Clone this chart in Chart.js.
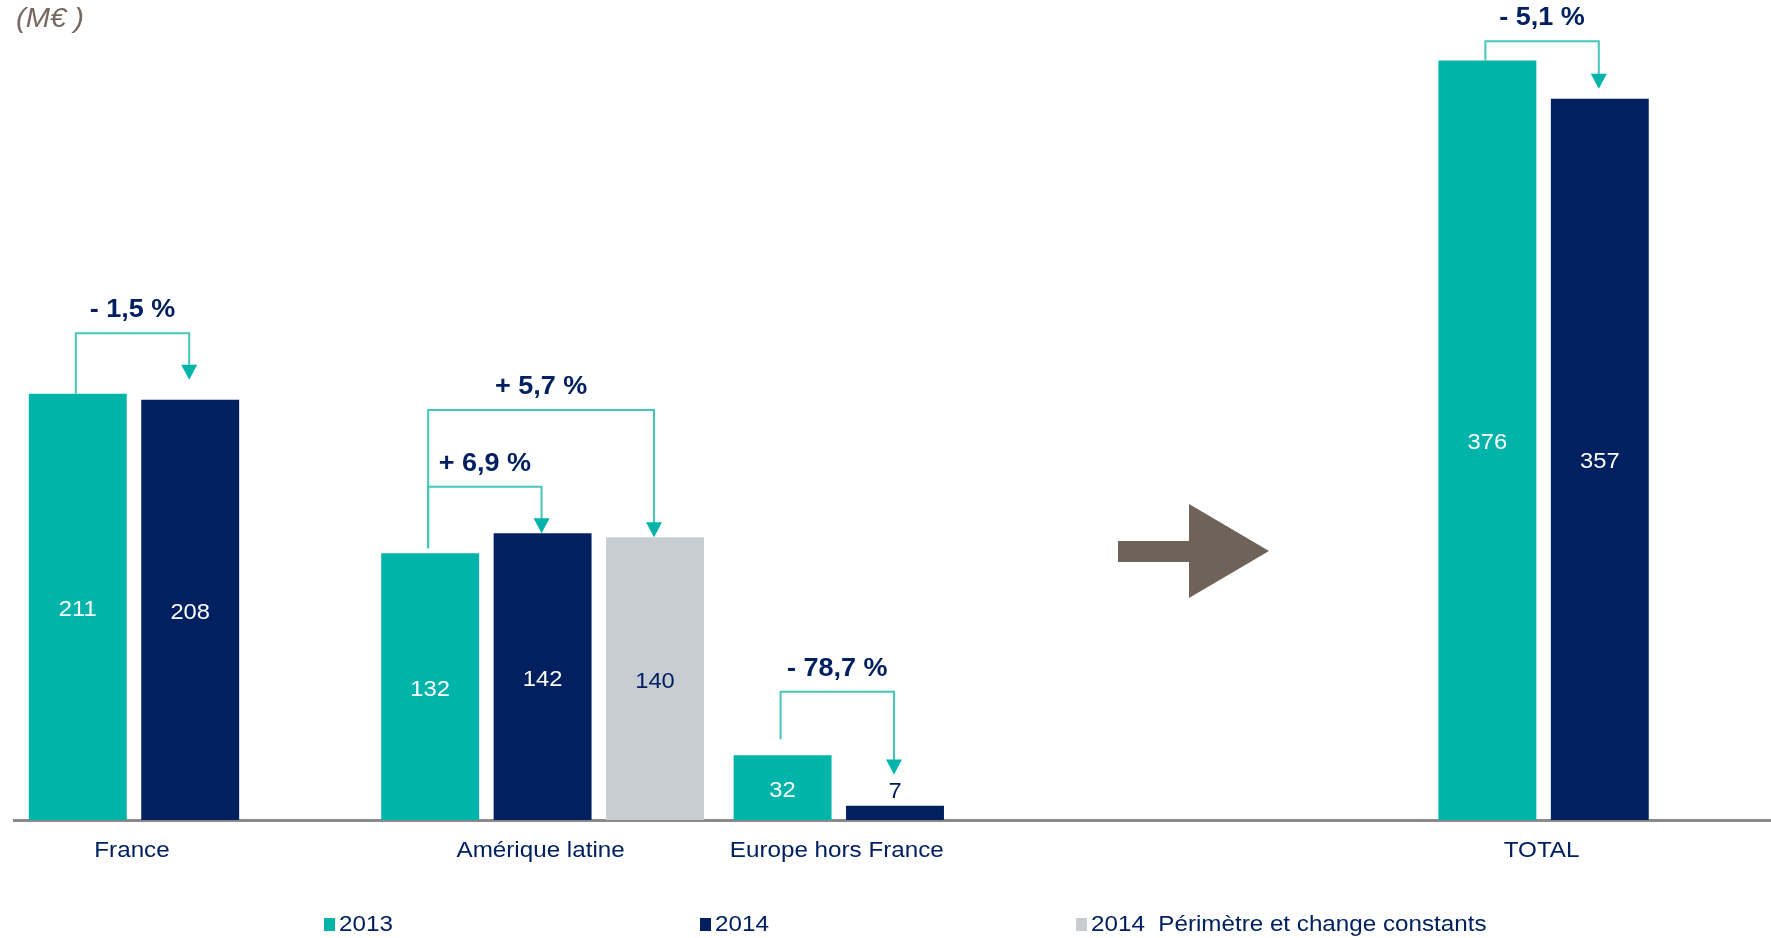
<!DOCTYPE html>
<html>
<head>
<meta charset="utf-8">
<script src="https://cdn.jsdelivr.net/npm/chart.js@4"></script>
<style>
  html, body { margin: 0; padding: 0; background: #fff; overflow: hidden; }
</style>
</head>
<body>
<canvas id="Chart" width="1780" height="938"></canvas>
<script>
// Regions on the x axis (the blank one leaves room for the arrow)
var categories = ['France', 'Amérique latine', 'Europe hors France', '', 'TOTAL'];
var values2013 = [211, 132, 32, null, 376];
var values2014 = [208, 142, 7, null, 357];
var values2014Constant = [null, 140, null, null, null];
var seriesNames = ['2013', '2014', '2014  Périmètre et change constants'];

// Changes between bars: [dataset, index] pairs, bracket height and leg ends in M€
var changeLabels = ['- 1,5 %', '+ 6,9 %', '+ 5,7 %', '- 78,7 %', '- 5,1 %'];
var changeFrom = [[0, 0], [0, 1], [0, 1], [0, 2], [0, 4]];
var changeTo = [[1, 0], [1, 1], [2, 1], [1, 2], [1, 4]];
var changeLevel = [241, 165, 203, 63.5, 385.5];
var changeStart = [211, 134.5, 134.5, 40, 376];
var changeTip = [218, 142, 140, 22.5, 362];

var TEAL = '#00b4a9';
var NAVY = '#002060';
var GREY = '#c8cdd4';
var LINE = '#45c6bb';
var BROWN = '#6e6259';
var FONT = "'Liberation Sans', Arial, sans-serif";

// text runs a little wide, so stretch it out horizontally
function drawText(ctx, text, x, y, font, color, align, sx) {
    ctx.save();
    ctx.font = font;
    ctx.fillStyle = color;
    ctx.textBaseline = 'middle';
    ctx.textAlign = align || 'center';
    ctx.translate(x, y);
    ctx.scale(sx || 1.08, 1);
    ctx.fillText(text, 0, 0);
    ctx.restore();
}

var annotations = {
    id: 'annotations',
    afterDatasetsDraw: function (chart) {
        var ctx = chart.ctx;
        var yScale = chart.scales.y;
        var area = chart.chartArea;

        // value labels
        chart.data.datasets.forEach(function (ds, di) {
            var meta = chart.getDatasetMeta(di);
            meta.data.forEach(function (bar, i) {
                var v = ds.data[i];
                if (v === null) return;
                if (v < 20) {
                    drawText(ctx, String(v), bar.x, bar.y - 14, '22px ' + FONT, NAVY);
                } else {
                    drawText(ctx, String(v), bar.x, (bar.y + bar.base) / 2 + 3, '22px ' + FONT,
                        di === 2 ? NAVY : '#ffffff');
                }
            });
        });

        // category labels, centred under the bars that exist
        categories.forEach(function (name, i) {
            if (!name) return;
            var xs = [];
            chart.data.datasets.forEach(function (ds, di) {
                if (ds.data[i] !== null) xs.push(chart.getDatasetMeta(di).data[i].x);
            });
            var cx = (Math.min.apply(null, xs) + Math.max.apply(null, xs)) / 2;
            drawText(ctx, name, cx - 2, area.bottom + 31, '22px ' + FONT, NAVY, 'center', 1.1);
        });

        // change brackets
        changeLabels.forEach(function (label, k) {
            var a = chart.getDatasetMeta(changeFrom[k][0]).data[changeFrom[k][1]];
            var b = chart.getDatasetMeta(changeTo[k][0]).data[changeTo[k][1]];
            var x1 = a.x - 2, x2 = b.x - 1;
            var yl = yScale.getPixelForValue(changeLevel[k]);
            var ys = yScale.getPixelForValue(changeStart[k]);
            var yt = yScale.getPixelForValue(changeTip[k]);
            ctx.save();
            ctx.strokeStyle = LINE;
            ctx.lineWidth = 2;
            ctx.beginPath();
            ctx.moveTo(x1, ys);
            ctx.lineTo(x1, yl);
            ctx.lineTo(x2, yl);
            ctx.lineTo(x2, yt - 14);
            ctx.stroke();
            ctx.fillStyle = TEAL;
            ctx.beginPath();
            ctx.moveTo(x2 - 8, yt - 15);
            ctx.lineTo(x2 + 8, yt - 15);
            ctx.lineTo(x2, yt);
            ctx.closePath();
            ctx.fill();
            ctx.restore();
            drawText(ctx, label, (x1 + x2) / 2, yl - 23, 'bold 25px ' + FONT, NAVY);
        });

        // block arrow pointing at the total
        ctx.save();
        ctx.fillStyle = BROWN;
        ctx.beginPath();
        ctx.moveTo(1118, 541);
        ctx.lineTo(1189, 541);
        ctx.lineTo(1189, 504);
        ctx.lineTo(1269, 551);
        ctx.lineTo(1189, 598);
        ctx.lineTo(1189, 562);
        ctx.lineTo(1118, 562);
        ctx.closePath();
        ctx.fill();
        ctx.restore();

        // unit
        drawText(ctx, '(M€ )', 16, 19, 'italic 27px ' + FONT, '#76685f', 'left', 1.08);

        // legend
        var legendX = [324, 700, 1076];
        chart.data.datasets.forEach(function (ds, di) {
            ctx.fillStyle = ds.backgroundColor;
            ctx.fillRect(legendX[di], 918, 11, 13);
            drawText(ctx, ds.label, legendX[di] + 15, 925, '22px ' + FONT, NAVY, 'left', 1.1);
        });
    }
};

var data = {
    labels: categories,
    datasets: [
        { label: seriesNames[0], data: values2013, backgroundColor: TEAL },
        { label: seriesNames[1], data: values2014, backgroundColor: NAVY },
        { label: seriesNames[2], data: values2014Constant, backgroundColor: GREY }
    ]
};

var config = {
    type: 'bar',
    data: data,
    options: {
        responsive: false,
        devicePixelRatio: 1,
        animation: false,
        layout: { padding: { left: 14, right: 4, top: 12, bottom: 118 } },
        datasets: {
            bar: { barPercentage: 0.871, categoryPercentage: 0.957 }
        },
        plugins: {
            legend: { display: false },
            tooltip: { enabled: false }
        },
        scales: {
            x: {
                ticks: { display: false },
                grid: { display: false, drawTicks: false },
                border: { display: true, color: '#8a8a8a', width: 3 }
            },
            y: { display: false, min: 0, max: 400 }
        }
    },
    plugins: [annotations]
};

var ctx = document.getElementById('Chart').getContext('2d');
var myChart = new Chart(ctx, config);
</script>
</body>
</html>
